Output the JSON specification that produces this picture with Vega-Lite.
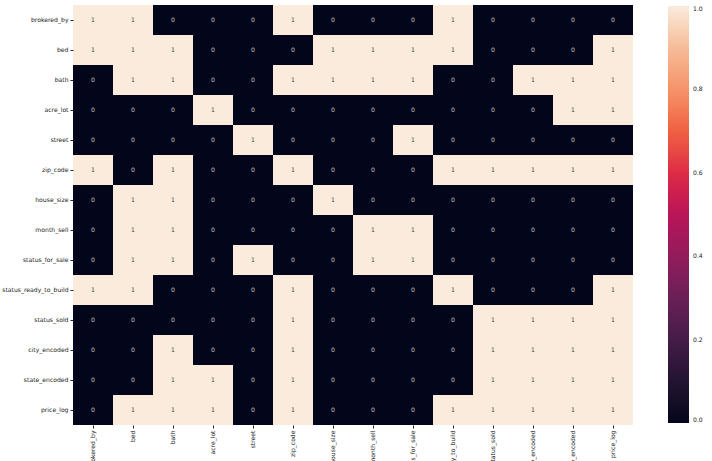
{
  "$schema": "https://vega.github.io/schema/vega-lite/v6.json",
  "autosize": {"type": "none"},
  "padding": {"left": 73, "top": 5, "right": 79, "bottom": 36},
  "width": 560,
  "height": 420,
  "background": "white",
  "config": {"view": {"stroke": null}, "font": "DejaVu Sans"},
  "data": {"values": [
    {"r":"brokered_by","c":"brokered_by","v":1},{"r":"brokered_by","c":"bed","v":1},{"r":"brokered_by","c":"bath","v":0},{"r":"brokered_by","c":"acre_lot","v":0},{"r":"brokered_by","c":"street","v":0},{"r":"brokered_by","c":"zip_code","v":1},{"r":"brokered_by","c":"house_size","v":0},{"r":"brokered_by","c":"month_sell","v":0},{"r":"brokered_by","c":"status_for_sale","v":0},{"r":"brokered_by","c":"status_ready_to_build","v":1},{"r":"brokered_by","c":"status_sold","v":0},{"r":"brokered_by","c":"city_encoded","v":0},{"r":"brokered_by","c":"state_encoded","v":0},{"r":"brokered_by","c":"price_log","v":0},
    {"r":"bed","c":"brokered_by","v":1},{"r":"bed","c":"bed","v":1},{"r":"bed","c":"bath","v":1},{"r":"bed","c":"acre_lot","v":0},{"r":"bed","c":"street","v":0},{"r":"bed","c":"zip_code","v":0},{"r":"bed","c":"house_size","v":1},{"r":"bed","c":"month_sell","v":1},{"r":"bed","c":"status_for_sale","v":1},{"r":"bed","c":"status_ready_to_build","v":1},{"r":"bed","c":"status_sold","v":0},{"r":"bed","c":"city_encoded","v":0},{"r":"bed","c":"state_encoded","v":0},{"r":"bed","c":"price_log","v":1},
    {"r":"bath","c":"brokered_by","v":0},{"r":"bath","c":"bed","v":1},{"r":"bath","c":"bath","v":1},{"r":"bath","c":"acre_lot","v":0},{"r":"bath","c":"street","v":0},{"r":"bath","c":"zip_code","v":1},{"r":"bath","c":"house_size","v":1},{"r":"bath","c":"month_sell","v":1},{"r":"bath","c":"status_for_sale","v":1},{"r":"bath","c":"status_ready_to_build","v":0},{"r":"bath","c":"status_sold","v":0},{"r":"bath","c":"city_encoded","v":1},{"r":"bath","c":"state_encoded","v":1},{"r":"bath","c":"price_log","v":1},
    {"r":"acre_lot","c":"brokered_by","v":0},{"r":"acre_lot","c":"bed","v":0},{"r":"acre_lot","c":"bath","v":0},{"r":"acre_lot","c":"acre_lot","v":1},{"r":"acre_lot","c":"street","v":0},{"r":"acre_lot","c":"zip_code","v":0},{"r":"acre_lot","c":"house_size","v":0},{"r":"acre_lot","c":"month_sell","v":0},{"r":"acre_lot","c":"status_for_sale","v":0},{"r":"acre_lot","c":"status_ready_to_build","v":0},{"r":"acre_lot","c":"status_sold","v":0},{"r":"acre_lot","c":"city_encoded","v":0},{"r":"acre_lot","c":"state_encoded","v":1},{"r":"acre_lot","c":"price_log","v":1},
    {"r":"street","c":"brokered_by","v":0},{"r":"street","c":"bed","v":0},{"r":"street","c":"bath","v":0},{"r":"street","c":"acre_lot","v":0},{"r":"street","c":"street","v":1},{"r":"street","c":"zip_code","v":0},{"r":"street","c":"house_size","v":0},{"r":"street","c":"month_sell","v":0},{"r":"street","c":"status_for_sale","v":1},{"r":"street","c":"status_ready_to_build","v":0},{"r":"street","c":"status_sold","v":0},{"r":"street","c":"city_encoded","v":0},{"r":"street","c":"state_encoded","v":0},{"r":"street","c":"price_log","v":0},
    {"r":"zip_code","c":"brokered_by","v":1},{"r":"zip_code","c":"bed","v":0},{"r":"zip_code","c":"bath","v":1},{"r":"zip_code","c":"acre_lot","v":0},{"r":"zip_code","c":"street","v":0},{"r":"zip_code","c":"zip_code","v":1},{"r":"zip_code","c":"house_size","v":0},{"r":"zip_code","c":"month_sell","v":0},{"r":"zip_code","c":"status_for_sale","v":0},{"r":"zip_code","c":"status_ready_to_build","v":1},{"r":"zip_code","c":"status_sold","v":1},{"r":"zip_code","c":"city_encoded","v":1},{"r":"zip_code","c":"state_encoded","v":1},{"r":"zip_code","c":"price_log","v":1},
    {"r":"house_size","c":"brokered_by","v":0},{"r":"house_size","c":"bed","v":1},{"r":"house_size","c":"bath","v":1},{"r":"house_size","c":"acre_lot","v":0},{"r":"house_size","c":"street","v":0},{"r":"house_size","c":"zip_code","v":0},{"r":"house_size","c":"house_size","v":1},{"r":"house_size","c":"month_sell","v":0},{"r":"house_size","c":"status_for_sale","v":0},{"r":"house_size","c":"status_ready_to_build","v":0},{"r":"house_size","c":"status_sold","v":0},{"r":"house_size","c":"city_encoded","v":0},{"r":"house_size","c":"state_encoded","v":0},{"r":"house_size","c":"price_log","v":0},
    {"r":"month_sell","c":"brokered_by","v":0},{"r":"month_sell","c":"bed","v":1},{"r":"month_sell","c":"bath","v":1},{"r":"month_sell","c":"acre_lot","v":0},{"r":"month_sell","c":"street","v":0},{"r":"month_sell","c":"zip_code","v":0},{"r":"month_sell","c":"house_size","v":0},{"r":"month_sell","c":"month_sell","v":1},{"r":"month_sell","c":"status_for_sale","v":1},{"r":"month_sell","c":"status_ready_to_build","v":0},{"r":"month_sell","c":"status_sold","v":0},{"r":"month_sell","c":"city_encoded","v":0},{"r":"month_sell","c":"state_encoded","v":0},{"r":"month_sell","c":"price_log","v":0},
    {"r":"status_for_sale","c":"brokered_by","v":0},{"r":"status_for_sale","c":"bed","v":1},{"r":"status_for_sale","c":"bath","v":1},{"r":"status_for_sale","c":"acre_lot","v":0},{"r":"status_for_sale","c":"street","v":1},{"r":"status_for_sale","c":"zip_code","v":0},{"r":"status_for_sale","c":"house_size","v":0},{"r":"status_for_sale","c":"month_sell","v":1},{"r":"status_for_sale","c":"status_for_sale","v":1},{"r":"status_for_sale","c":"status_ready_to_build","v":0},{"r":"status_for_sale","c":"status_sold","v":0},{"r":"status_for_sale","c":"city_encoded","v":0},{"r":"status_for_sale","c":"state_encoded","v":0},{"r":"status_for_sale","c":"price_log","v":0},
    {"r":"status_ready_to_build","c":"brokered_by","v":1},{"r":"status_ready_to_build","c":"bed","v":1},{"r":"status_ready_to_build","c":"bath","v":0},{"r":"status_ready_to_build","c":"acre_lot","v":0},{"r":"status_ready_to_build","c":"street","v":0},{"r":"status_ready_to_build","c":"zip_code","v":1},{"r":"status_ready_to_build","c":"house_size","v":0},{"r":"status_ready_to_build","c":"month_sell","v":0},{"r":"status_ready_to_build","c":"status_for_sale","v":0},{"r":"status_ready_to_build","c":"status_ready_to_build","v":1},{"r":"status_ready_to_build","c":"status_sold","v":0},{"r":"status_ready_to_build","c":"city_encoded","v":0},{"r":"status_ready_to_build","c":"state_encoded","v":0},{"r":"status_ready_to_build","c":"price_log","v":1},
    {"r":"status_sold","c":"brokered_by","v":0},{"r":"status_sold","c":"bed","v":0},{"r":"status_sold","c":"bath","v":0},{"r":"status_sold","c":"acre_lot","v":0},{"r":"status_sold","c":"street","v":0},{"r":"status_sold","c":"zip_code","v":1},{"r":"status_sold","c":"house_size","v":0},{"r":"status_sold","c":"month_sell","v":0},{"r":"status_sold","c":"status_for_sale","v":0},{"r":"status_sold","c":"status_ready_to_build","v":0},{"r":"status_sold","c":"status_sold","v":1},{"r":"status_sold","c":"city_encoded","v":1},{"r":"status_sold","c":"state_encoded","v":1},{"r":"status_sold","c":"price_log","v":1},
    {"r":"city_encoded","c":"brokered_by","v":0},{"r":"city_encoded","c":"bed","v":0},{"r":"city_encoded","c":"bath","v":1},{"r":"city_encoded","c":"acre_lot","v":0},{"r":"city_encoded","c":"street","v":0},{"r":"city_encoded","c":"zip_code","v":1},{"r":"city_encoded","c":"house_size","v":0},{"r":"city_encoded","c":"month_sell","v":0},{"r":"city_encoded","c":"status_for_sale","v":0},{"r":"city_encoded","c":"status_ready_to_build","v":0},{"r":"city_encoded","c":"status_sold","v":1},{"r":"city_encoded","c":"city_encoded","v":1},{"r":"city_encoded","c":"state_encoded","v":1},{"r":"city_encoded","c":"price_log","v":1},
    {"r":"state_encoded","c":"brokered_by","v":0},{"r":"state_encoded","c":"bed","v":0},{"r":"state_encoded","c":"bath","v":1},{"r":"state_encoded","c":"acre_lot","v":1},{"r":"state_encoded","c":"street","v":0},{"r":"state_encoded","c":"zip_code","v":1},{"r":"state_encoded","c":"house_size","v":0},{"r":"state_encoded","c":"month_sell","v":0},{"r":"state_encoded","c":"status_for_sale","v":0},{"r":"state_encoded","c":"status_ready_to_build","v":0},{"r":"state_encoded","c":"status_sold","v":1},{"r":"state_encoded","c":"city_encoded","v":1},{"r":"state_encoded","c":"state_encoded","v":1},{"r":"state_encoded","c":"price_log","v":1},
    {"r":"price_log","c":"brokered_by","v":0},{"r":"price_log","c":"bed","v":1},{"r":"price_log","c":"bath","v":1},{"r":"price_log","c":"acre_lot","v":1},{"r":"price_log","c":"street","v":0},{"r":"price_log","c":"zip_code","v":1},{"r":"price_log","c":"house_size","v":0},{"r":"price_log","c":"month_sell","v":0},{"r":"price_log","c":"status_for_sale","v":0},{"r":"price_log","c":"status_ready_to_build","v":1},{"r":"price_log","c":"status_sold","v":1},{"r":"price_log","c":"city_encoded","v":1},{"r":"price_log","c":"state_encoded","v":1},{"r":"price_log","c":"price_log","v":1}
  ]},
  "encoding": {
    "x": {
      "field": "c", "type": "nominal",
      "sort": ["brokered_by","bed","bath","acre_lot","street","zip_code","house_size","month_sell","status_for_sale","status_ready_to_build","status_sold","city_encoded","state_encoded","price_log"],
      "scale": {"paddingInner": 0, "paddingOuter": 0},
      "axis": {"title": null, "labelAngle": -90, "labelFontSize": 6.1, "labelColor": "#222", "tickColor": "#222", "tickSize": 3, "domain": false, "labelPadding": 2}
    },
    "y": {
      "field": "r", "type": "nominal",
      "sort": ["brokered_by","bed","bath","acre_lot","street","zip_code","house_size","month_sell","status_for_sale","status_ready_to_build","status_sold","city_encoded","state_encoded","price_log"],
      "scale": {"paddingInner": 0, "paddingOuter": 0},
      "axis": {"title": null, "labelFontSize": 6.1, "labelColor": "#222", "tickColor": "#222", "tickSize": 3, "domain": false, "labelPadding": 2}
    }
  },
  "layer": [
    {
      "mark": {"type": "rect"},
      "encoding": {
        "color": {
          "field": "v", "type": "quantitative",
          "scale": {"domain": [0, 1], "range": ["#03051a","#221331","#451c47","#6a1f56","#921c5b","#b91657","#dd2c45","#f06043","#f5936a","#f6bc99","#faebdd"]},
          "legend": {
            "title": null, "orient": "none", "legendX": 595, "legendY": 1,
            "direction": "vertical", "gradientLength": 417, "gradientThickness": 21,
            "gradientStrokeWidth": 0, "values": [0, 0.2, 0.4, 0.6, 0.8, 1.0], "format": ".1f",
            "labelFontSize": 6.1, "labelColor": "#222", "labelOffset": 4, "labelOverlap": false
          }
        }
      }
    },
    {
      "mark": {"type": "text", "fontSize": 6.1},
      "encoding": {
        "text": {"field": "v", "type": "quantitative"},
        "color": {"condition": {"test": "datum.v > 0.5", "value": "#444444"}, "value": "#cccccc"}
      }
    }
  ]
}
